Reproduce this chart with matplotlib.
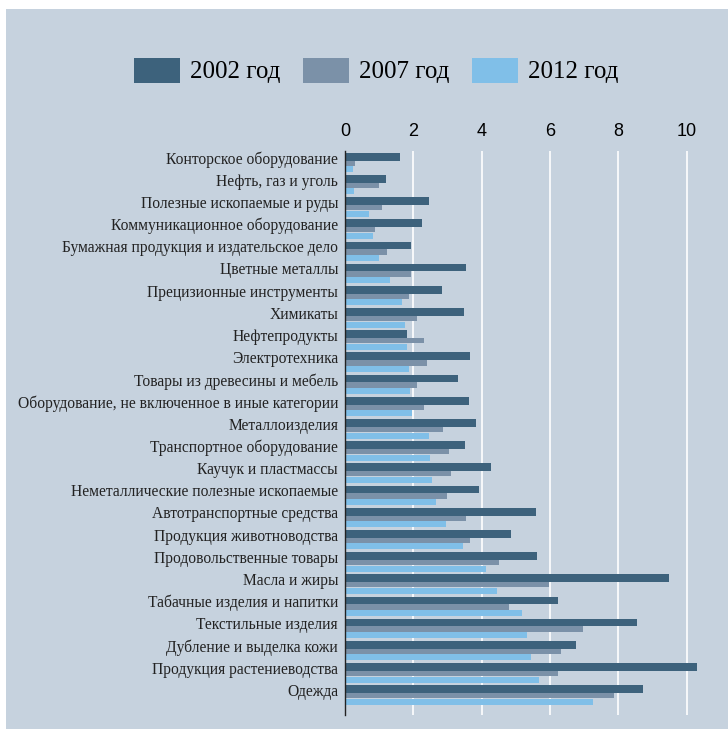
import numpy as np
import matplotlib.pyplot as plt
from matplotlib.patches import Rectangle

categories = [
    "Конторское оборудование",
    "Нефть, газ и уголь",
    "Полезные ископаемые и руды",
    "Коммуникационное оборудование",
    "Бумажная продукция и издательское дело",
    "Цветные металлы",
    "Прецизионные инструменты",
    "Химикаты",
    "Нефтепродукты",
    "Электротехника",
    "Товары из древесины и мебель",
    "Оборудование, не включенное в иные категории",
    "Металлоизделия",
    "Транспортное оборудование",
    "Каучук и пластмассы",
    "Неметаллические полезные ископаемые",
    "Автотранспортные средства",
    "Продукция животноводства",
    "Продовольственные товары",
    "Масла и жиры",
    "Табачные изделия и напитки",
    "Текстильные изделия",
    "Дубление и выделка кожи",
    "Продукция растениеводства",
    "Одежда",
]
y2002 = [1.60, 1.21, 2.47, 2.26, 1.94, 3.53, 2.85, 3.49, 1.81, 3.65, 3.30, 3.63, 3.84,
         3.52, 4.27, 3.91, 5.60, 4.85, 5.63, 9.49, 6.23, 8.56, 6.75, 10.30, 8.71]
y2007 = [0.30, 0.99, 1.07, 0.89, 1.24, 1.94, 1.88, 2.11, 2.30, 2.40, 2.11, 2.32, 2.88,
         3.04, 3.11, 2.98, 3.53, 3.65, 4.50, 5.98, 4.81, 6.98, 6.33, 6.23, 7.88]
y2012 = [0.24, 0.27, 0.69, 0.82, 1.00, 1.33, 1.66, 1.76, 1.80, 1.88, 1.91, 1.95, 2.47,
         2.50, 2.56, 2.66, 2.95, 3.46, 4.14, 4.46, 5.17, 5.34, 5.45, 5.69, 7.27]
series_names = ["2002 год", "2007 год", "2012 год"]
xticks = [0, 2, 4, 6, 8, 10]

bg = "#c6d2de"
colors = ["#3d627c", "#7b91a8", "#80bfe8"]

fig = plt.figure(figsize=(7.28, 7.29), dpi=100)
fig.patch.set_facecolor("white")
fig.patches.append(Rectangle((6 / 728, 0), 1, 1 - 9 / 729, transform=fig.transFigure,
                             facecolor=bg, edgecolor="none", zorder=-10))

ax = fig.add_axes([345 / 728, 1 - 715 / 729, (714 - 345) / 728, (715 - 151) / 729])
ax.set_facecolor(bg)

pos = np.arange(len(categories))
ax.barh(pos + 0.175, y2002, height=0.35, color=colors[0], label=series_names[0], zorder=3)
ax.barh(pos + 0.47, y2007, height=0.24, color=colors[1], label=series_names[1], zorder=3)
ax.barh(pos + 0.745, y2012, height=0.27, color=colors[2], label=series_names[2], zorder=3)

ax.set_xlim(0, 10.8)
ax.set_ylim(25.34, -0.08)
ax.xaxis.tick_top()
ax.set_xticks(xticks)
ax.set_xticklabels([str(t) for t in xticks], fontsize=13, family="Liberation Sans")
ax.tick_params(axis="x", length=0, pad=8)
ax.set_yticks(pos + 0.21)
ax.set_yticklabels(categories, fontsize=11.2, family="Liberation Serif", color="#222222")
ax.tick_params(axis="y", length=0, pad=5)
ax.grid(axis="x", color="white", linewidth=1.2, zorder=1)
for s in ["top", "right", "bottom"]:
    ax.spines[s].set_visible(False)
ax.spines["left"].set_color("#222222")
ax.spines["left"].set_linewidth(1.0)
ax.spines["left"].set_zorder(4)

fig.legend(loc="center", bbox_to_anchor=(0.517, 1 - 70.5 / 729), ncol=3, frameon=False,
           prop={"family": "Liberation Serif", "size": 18},
           handlelength=1.85, handleheight=1.16, handletextpad=0.4, columnspacing=0.9)

fig.savefig("out.png", dpi=100, facecolor=fig.get_facecolor())
